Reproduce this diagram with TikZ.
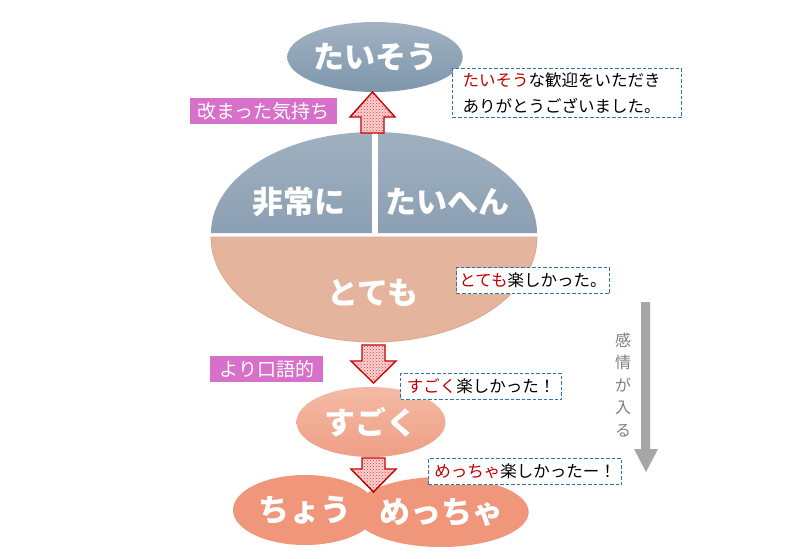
\documentclass[tikz,border=0pt]{standalone}
\usepackage{fontspec}
\newfontfamily\jp{Noto Sans CJK JP}
\newfontfamily\jpblack{Noto Sans CJK JP Black}
\usetikzlibrary{shapes.geometric,patterns}
\definecolor{jred}{HTML}{C00000}
\definecolor{jblue}{HTML}{2E75B6}
\definecolor{jpurple}{HTML}{D670C9}
\definecolor{bgtop}{HTML}{A2B2C2}
\definecolor{bgbot}{HTML}{7E96AC}
\definecolor{bhtop}{HTML}{9FB0C0}
\definecolor{bhbot}{HTML}{8CA0B3}
\definecolor{peach}{HTML}{E4B59C}
\definecolor{peachline}{HTML}{DDA589}
\definecolor{sgtop}{HTML}{F4BAA5}
\definecolor{sgbot}{HTML}{EF9F85}
\definecolor{salmon}{HTML}{F0967A}
\definecolor{arrowfill}{HTML}{F7D4D4}
\definecolor{garrow}{HTML}{A6A6A6}
\definecolor{gtext}{HTML}{7F7F7F}
\newcommand\blkarrow[5]{% name, x, shaft start y, head base y, tip y
  \draw[blockarrow] (#2-11.5,#3) -- (#2+11.5,#3) -- (#2+11.5,#4) -- (#2+22.5,#4)
    -- (#2,#5) coordinate (#1) -- (#2-22.5,#4) -- (#2-11.5,#4) -- cycle;}
\begin{document}
\begin{tikzpicture}[x=1pt,y=-1pt,
  bigtext/.style={font=\jpblack\fontsize{31}{31}\selectfont, text=white, inner sep=0},
  oval/.style={ellipse, inner sep=0, minimum width=#1},
  plabel/.style={fill=jpurple, text=white, font=\jp\fontsize{19}{19}\selectfont, inner sep=0, minimum height=26, anchor=north west},
  dbox/.style={draw=jblue, dashed, dash pattern=on 3.5pt off 2pt, line width=1, fill=white,
    font=\jp\fontsize{16.5}{16.5}\selectfont, inner sep=0, anchor=north west, minimum height=26},
  blockarrow/.style={draw=jred, line width=1.4, fill=arrowfill, postaction={pattern=crosshatch dots, pattern color=red!80}},
  vtext/.style={font=\jp\fontsize{16}{22.5}\selectfont, text=gtext, align=center, inner sep=0}]
\useasboundingbox (0,0) rectangle (800,558);
\fill[white] (0,0) rectangle (800,558);

% top oval
\node[oval=148, minimum height=70, top color=bgtop, bottom color=bgbot, bigtext] (taisou) at (375,57) {たいそう};

% big oval: upper half
\shade[top color=bhtop, bottom color=bhbot] (211,233) arc[start angle=180, end angle=360, x radius=163, y radius=101] -- cycle;
\draw[white, line width=6] (375,128) -- (375,233);
% lower half
\draw[fill=peach, draw=peachline, line width=0.8] (211,237) arc[start angle=180, end angle=0, x radius=163, y radius=105] -- cycle;
\node[bigtext] (hijou) at (299,202) {非常に};
\node[bigtext] (taihen) at (447,202) {たいへん};
\node[bigtext] (totemo) at (373,293) {とても};
\coordinate (bigtop) at (374,132);
\coordinate (bigbot) at (374,342);

% sugoku
\node[oval=149, minimum height=70, top color=sgtop, bottom color=sgbot, bigtext] (sugoku) at (371,422) {すごく};

% chou / meccha
\node[oval=144, minimum height=70, fill=salmon, bigtext] (chou) at (305,510) {ちょう};
\node[oval=142, minimum height=70, fill=salmon, bigtext] (meccha) at (441,512) {めっちゃ};

% block arrows
\blkarrow{a1}{372.5}{133}{117}{92}
\blkarrow{a2}{373.5}{345}{361}{383}
\blkarrow{a3}{373.5}{458}{469}{492}

% purple labels
\node[plabel, minimum width=147] (aratamatta) at (190,98) {改まった気持ち};
\node[plabel, minimum width=113] (yorikougo) at (210,356) {より口語的};

% dashed boxes
\node[dbox, minimum width=229, minimum height=49, text width=209, align=left, inner xsep=10,
  font=\jp\fontsize{16.5}{26}\selectfont] (box1) at (452,68)
  {\textcolor{jred}{たいそう}な歓迎をいただき\\ありがとうございました。};
\node[dbox, minimum width=153, text width=153, align=center] (box2) at (456,267) {\textcolor{jred}{とても}楽しかった。};
\node[dbox, minimum width=161, text width=161, align=center] (box3) at (400,373) {\textcolor{jred}{すごく}楽しかった！};
\node[dbox, minimum width=193, text width=193, align=center] (box4) at (428,458) {\textcolor{jred}{めっちゃ}楽しかったー！};

% grey arrow
\coordinate (gtop) at (645.5,302);
\coordinate (gtip) at (646,472);
\fill[garrow] (641,302) -- (650,302) -- (650,449) -- (658,449) -- (gtip) -- (634,449) -- (641,449) -- cycle;
\node[vtext] (kanjou) at (623,385) {感\\情\\が\\入\\る};
\end{tikzpicture}
\end{document}
